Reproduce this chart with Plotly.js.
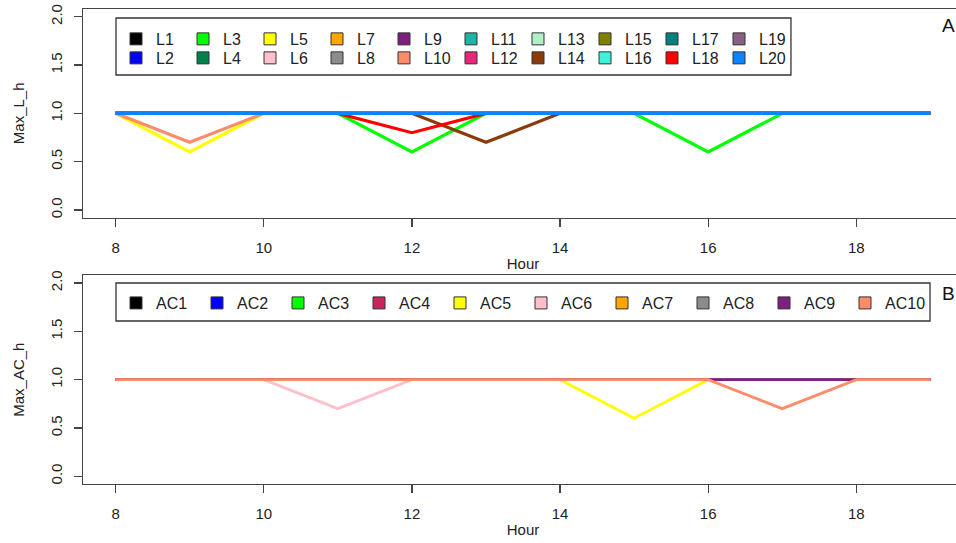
<!DOCTYPE html>
<html>
<head>
<meta charset="utf-8">
<script src="https://cdn.plot.ly/plotly-3.0.1.min.js"></script>
<style>
  html, body { margin: 0; padding: 0; overflow: hidden; background: #fff; }
  #chart { width: 965px; height: 543px; }
</style>
</head>
<body>
<div id="chart"></div>
<script>
// ---------- DATA ----------
const hours = [8, 9, 10, 11, 12, 13, 14, 15, 16, 17, 18, 19];

const lNames = ["L1","L2","L3","L4","L5","L6","L7","L8","L9","L10",
                "L11","L12","L13","L14","L15","L16","L17","L18","L19","L20"];
const lColors = ["#000000","#0000FF","#00FF00","#00804A","#FFFF00","#FFC0CB","#FFA500","#8C8C8C","#7F1F7F","#FF8C69",
                 "#1FB2A8","#E8267A","#B0F0C4","#8B3A0A","#808000","#3CF5D8","#008080","#FF0000","#8B6088","#0A84FF"];
const lValues = [
  [1,1,1,1,1,1,1,1,1,1,1,1],            // L1
  [1,1,1,1,1,1,1,1,1,1,1,1],            // L2
  [1,1,1,1,0.6,1,1,1,0.6,1,1,1],        // L3
  [1,1,1,1,1,1,1,1,1,1,1,1],            // L4
  [1,0.6,1,1,1,1,1,1,1,1,1,1],          // L5
  [1,1,1,1,1,1,1,1,1,1,1,1],            // L6
  [1,1,1,1,1,1,1,1,1,1,1,1],            // L7
  [1,1,1,1,1,1,1,1,1,1,1,1],            // L8
  [1,1,1,1,1,1,1,1,1,1,1,1],            // L9
  [1,0.7,1,1,1,1,1,1,1,1,1,1],          // L10
  [1,1,1,1,1,1,1,1,1,1,1,1],            // L11
  [1,1,1,1,1,1,1,1,1,1,1,1],            // L12
  [1,1,1,1,1,1,1,1,1,1,1,1],            // L13
  [1,1,1,1,1,0.7,1,1,1,1,1,1],          // L14
  [1,1,1,1,1,1,1,1,1,1,1,1],            // L15
  [1,1,1,1,1,1,1,1,1,1,1,1],            // L16
  [1,1,1,1,1,1,1,1,1,1,1,1],            // L17
  [1,1,1,1,0.8,1,1,1,1,1,1,1],          // L18
  [1,1,1,1,1,1,1,1,1,1,1,1],            // L19
  [1,1,1,1,1,1,1,1,1,1,1,1]             // L20
];

const acNames = ["AC1","AC2","AC3","AC4","AC5","AC6","AC7","AC8","AC9","AC10"];
const acColors = ["#000000","#0000FF","#00FF00","#C8265A","#FFFF00","#FFC0CB","#FFA500","#8C8C8C","#7F1F7F","#FF8C69"];
const acValues = [
  [1,1,1,1,1,1,1,1,1,1,1,1],            // AC1
  [1,1,1,1,1,1,1,1,1,1,1,1],            // AC2
  [1,1,1,1,1,1,1,1,1,1,1,1],            // AC3
  [1,1,1,1,1,1,1,1,1,1,1,1],            // AC4
  [1,1,1,1,1,1,1,0.6,1,1,1,1],          // AC5
  [1,1,1,0.7,1,1,1,1,1,1,1,1],          // AC6
  [1,1,1,1,1,1,1,1,1,1,1,1],            // AC7
  [1,1,1,1,1,1,1,1,1,1,1,1],            // AC8
  [1,1,1,1,1,1,1,1,1,1,1,1],            // AC9
  [1,1,1,1,1,1,1,1,1,0.7,1,1]           // AC10
];

const xTicks = [8, 10, 12, 14, 16, 18];
const yTicks = [0, 0.5, 1, 1.5, 2];
const yTickText = ["0.0", "0.5", "1.0", "1.5", "2.0"];

// ---------- TRACES ----------
const FONT = "Liberation Sans, Arial, Helvetica, sans-serif";
const traces = [];

lNames.forEach((n, i) => {
  traces.push({
    type: "scatter", mode: "lines", x: hours, y: lValues[i],
    xaxis: "x", yaxis: "y", name: n, showlegend: false,
    line: { color: lColors[i], width: 3.2 }, hoverinfo: "x+y+name"
  });
});
acNames.forEach((n, i) => {
  traces.push({
    type: "scatter", mode: "lines", x: hours, y: acValues[i],
    xaxis: "x2", yaxis: "y2", name: n, showlegend: false,
    line: { color: acColors[i], width: 2.8 }, hoverinfo: "x+y+name"
  });
});
// legend swatches (square filled boxes, like R legend fill)
lNames.forEach((n, i) => {
  traces.push({
    type: "scatter", mode: "markers", x: [null], y: [null],
    xaxis: "x", yaxis: "y", name: n, showlegend: true,
    legend: (i % 2 === 0) ? "legend" : "legend2",
    marker: { symbol: "square", size: 12, color: lColors[i], line: { color: "#333", width: 1 } }
  });
});
acNames.forEach((n, i) => {
  traces.push({
    type: "scatter", mode: "markers", x: [null], y: [null],
    xaxis: "x2", yaxis: "y2", name: n, showlegend: true,
    legend: "legend3",
    marker: { symbol: "square", size: 12, color: acColors[i], line: { color: "#333", width: 1 } }
  });
});

// ---------- LAYOUT ----------
function xAxis(anchor) {
  return {
    anchor: anchor, domain: [0, 1], range: [7.56, 19.44],
    tickvals: xTicks, ticktext: xTicks.map(String),
    ticks: "outside", ticklen: 8, tickwidth: 1.3, tickcolor: "#444",
    showline: true, mirror: true, linecolor: "#444", linewidth: 1.3,
    showgrid: false, zeroline: false,
    tickfont: { family: FONT, size: 15, color: "#222" },
    ticklabelstandoff: 8,
    title: { text: "Hour", font: { family: FONT, size: 15, color: "#222" }, standoff: 3 }
  };
}
function yAxis(anchor, domain, title) {
  return {
    anchor: anchor, domain: domain, range: [-0.08, 2.08],
    tickvals: yTicks, ticktext: yTickText, tickangle: -90,
    ticks: "outside", ticklen: 8, tickwidth: 1.3, tickcolor: "#444",
    showline: true, mirror: true, linecolor: "#444", linewidth: 1.3,
    showgrid: false, zeroline: false,
    tickfont: { family: FONT, size: 15, color: "#222" },
    ticklabelstandoff: 6,
    title: { text: title, font: { family: FONT, size: 15, color: "#222" }, standoff: 19 }
  };
}

const legendBase = {
  orientation: "h", xanchor: "left", yanchor: "top",
  bgcolor: "rgba(0,0,0,0)", borderwidth: 0,
  font: { family: FONT, size: 16, color: "#222" },
  entrywidthmode: "pixels", itemclick: false, itemdoubleclick: false
};

const layout = {
  width: 965, height: 543,
  margin: { l: 83, r: 2, t: 9, b: 59 },
  paper_bgcolor: "#fff", plot_bgcolor: "#fff",
  showlegend: true,
  xaxis: xAxis("y"),
  yaxis: yAxis("x", [0.5606, 1], "Max_L_h"),
  xaxis2: xAxis("y2"),
  yaxis2: yAxis("x2", [0, 0.4394], "Max_AC_h"),
  legend: Object.assign({}, legendBase, { x: 0.0375, y: 0.9727, entrywidth: 22 }),
  legend2: Object.assign({}, legendBase, { x: 0.0375, y: 0.9327, entrywidth: 22 }),
  legend3: Object.assign({}, legendBase, { x: 0.0375, y: 0.4168, entrywidth: 36 }),
  shapes: [
    { type: "rect", xref: "paper", yref: "paper", x0: 0.0375, x1: 0.8045, y0: 0.8611, y1: 0.9811,
      line: { color: "#333", width: 1.3 }, fillcolor: "rgba(0,0,0,0)", layer: "above" },
    { type: "rect", xref: "paper", yref: "paper", x0: 0.0375, x1: 0.9625, y0: 0.3432, y1: 0.4232,
      line: { color: "#333", width: 1.3 }, fillcolor: "rgba(0,0,0,0)", layer: "above" }
  ],
  annotations: [
    { text: "A", xref: "paper", yref: "paper", x: 0.984, y: 0.9663, xanchor: "center", yanchor: "middle",
      showarrow: false, font: { family: FONT, size: 19, color: "#111" } },
    { text: "B", xref: "paper", yref: "paper", x: 0.984, y: 0.4021, xanchor: "center", yanchor: "middle",
      showarrow: false, font: { family: FONT, size: 19, color: "#111" } }
  ]
};

Plotly.newPlot("chart", traces, layout, { displayModeBar: false, staticPlot: true });
</script>
</body>
</html>
